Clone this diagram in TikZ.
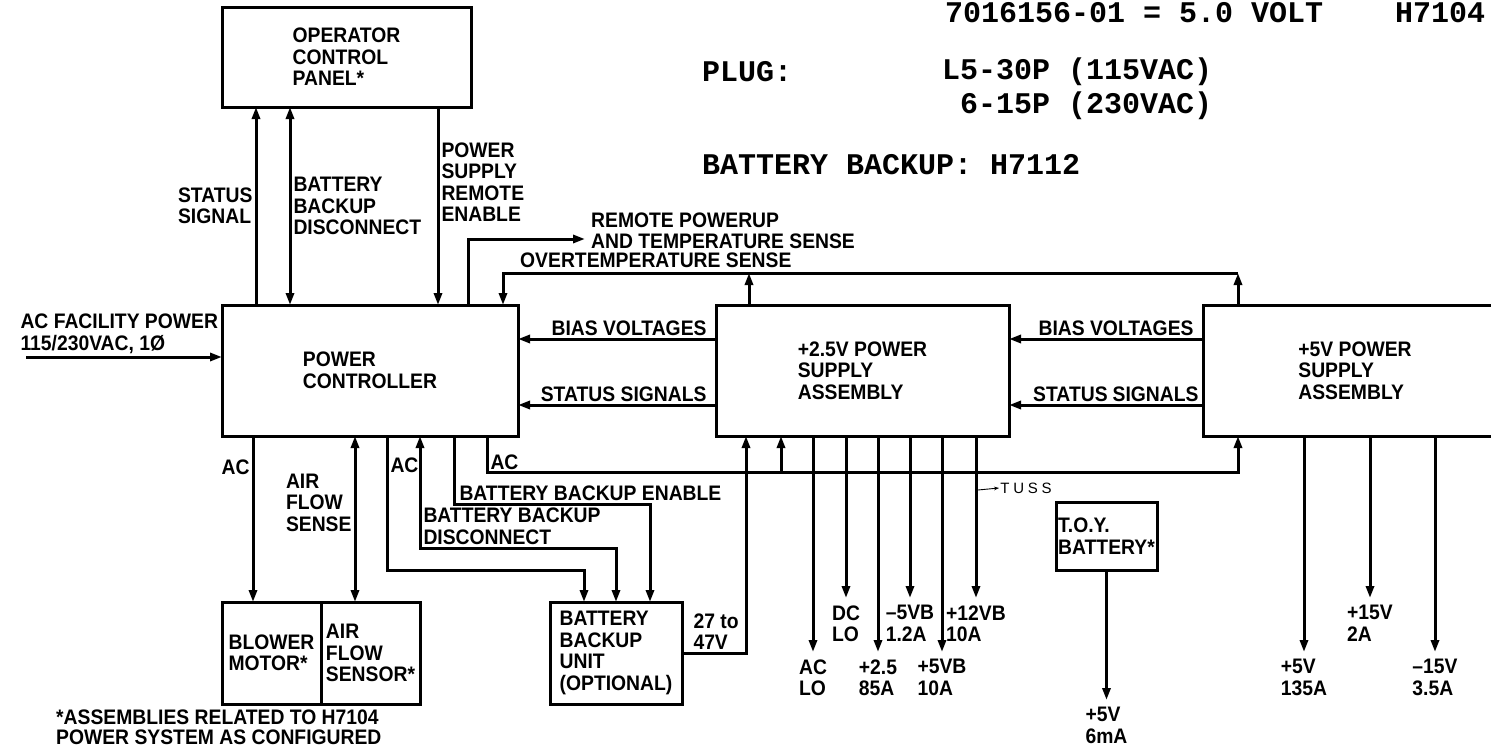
\documentclass[tikz,border=0pt]{standalone}
\usepackage{fontspec}
\newfontfamily\lblfont{Liberation Sans}[FakeStretch=0.92]
\newfontfamily\twfont{Liberation Mono}
\newfontfamily\handfont{Liberation Sans}[LetterSpace=25]
\usetikzlibrary{arrows.meta, calc}
\newcommand\lblsize{\lblfont\bfseries\fontsize{21}{21.5}\selectfont}
\newcommand\twsize{\twfont\bfseries\fontsize{30}{34}\selectfont}

\tikzset{>={Triangle[length=12pt,width=8pt]},
  wire/.style={line width=3pt}, sig/.style={wire, ->}, bisig/.style={wire, <->},
  box/.style={draw, line width=3pt, outer sep=0pt, inner sep=0pt, anchor=north west, align=left, font=\lblsize},
  lbl/.style={font=\lblsize, align=left, inner sep=2pt},
  tw/.style={font=\twsize, align=left, inner sep=2pt, anchor=west}}

\begin{document}
\begin{tikzpicture}[x=1pt, y=-1pt]
\useasboundingbox (0,0) rectangle (1491,747); \clip (0,0) rectangle (1491,747);

% typed notes
\node[tw] (model) at (943,13) {7016156-01 = 5.0 VOLT\ \ \ \ H7104};
\node[tw] (plug) at (700,72) {PLUG:};
\node[tw] (plugs) at (940,89) {L5-30P (115VAC)\\\phantom{L}6-15P (230VAC)};
\node[tw] (bbnote) at (700,165) {BATTERY BACKUP: H7112};

% blocks
\node[box, minimum width=249pt, minimum height=100pt] (ocp) at (222,7) {OPERATOR\\CONTROL\\PANEL*};
\node[box, minimum width=296pt, minimum height=131pt] (pc) at (222,305) {POWER\\CONTROLLER};
\node[box, minimum width=293pt, minimum height=131pt] (ps25) at (716,305) {+2.5V POWER\\SUPPLY\\ASSEMBLY};
\node[box, minimum width=304pt, minimum height=131pt] (ps5) at (1203,305) {+5V POWER\\SUPPLY\\ASSEMBLY};
\node[box, minimum width=99pt, minimum height=102pt] (blower) at (222,602) {BLOWER\\MOTOR*};
\node[box, minimum width=99pt, minimum height=102pt] (sensor) at (321,602) {AIR\\FLOW\\SENSOR*};
\node[box, minimum width=132pt, minimum height=102pt] (bbu) at (550,602) {BATTERY\\BACKUP\\UNIT\\(OPTIONAL)};
\node[box, minimum width=101pt, minimum height=68pt] (toy) at (1056,502) {T.O.Y.\\BATTERY*};

% operator panel links
\draw[sig] (pc.north -| 256,0) -- (ocp.south -| 256,0) node[lbl, midway, left] (lstat) {STATUS\\SIGNAL};
\draw[bisig] (ocp.south -| 290,0) -- (pc.north -| 290,0) node[lbl, midway, right] (ldisc) {BATTERY\\BACKUP\\DISCONNECT};
\draw[sig] (ocp.south -| 438,0) -- (pc.north -| 438,0) node[lbl, pos=0.38, right] (lrem) {POWER\\SUPPLY\\REMOTE\\ENABLE};

% remote powerup and overtemperature
\coordinate (rpu) at (585,239); \coordinate (otc) at (1238,273);
\draw[sig] (pc.north -| 468,0) |- (rpu);
\node[lbl, anchor=west] (lrpu) at (589,231) {REMOTE POWERUP\\AND TEMPERATURE SENSE};
\draw[sig] (ps5.north -| otc) -- (otc); \draw[sig] (otc) -| (pc.north -| 503,0);
\draw[sig] (ps25.north -| 749,0) -- (otc -| 749,0);
\node[lbl, anchor=west] (lot) at (518,260) {OVERTEMPERATURE SENSE};

% ac input
\coordinate (acin) at (26,357);
\draw[sig] (acin) node[lbl, anchor=south west, xshift=-9pt] (lacin) {AC FACILITY POWER\\115/230VAC, 1Ø} -- (pc.west |- acin);

% bias and status between blocks
\draw[sig] (ps25.west |- 0,339) node[lbl, anchor=south east, xshift=-6pt] (lb1) {BIAS VOLTAGES} -- (pc.east |- 0,339);
\draw[sig] (ps25.west |- 0,405) node[lbl, anchor=south east, xshift=-6pt] (ls1) {STATUS SIGNALS} -- (pc.east |- 0,405);
\draw[sig] (ps5.west |- 0,339) node[lbl, anchor=south east, xshift=-6pt] (lb2) {BIAS VOLTAGES} -- (ps25.east |- 0,339);
\draw[sig] (ps5.west |- 0,405) node[lbl, anchor=south east, xshift=-1pt] (ls2) {STATUS\kern5pt SIGNALS} -- (ps25.east |- 0,405);

% controller to blower, sensor and battery backup
\draw[sig] (pc.south -| 253,0) -- (blower.north -| 253,0) node[lbl, pos=0.19, left] (lac1) {AC};
\draw[bisig] (pc.south -| 355,0) -- (sensor.north -| 355,0) node[lbl, pos=0.40, left] (lafs) {AIR\\FLOW\\SENSE};
\draw[sig] (pc.south -| 387,0) -- (387,570) node[lbl, pos=0.22, right] (lac2) {AC} -| (bbu.north -| 584,0);
\draw[bisig] (pc.south -| 420,0) -- (420,548) node[lbl, pos=1, anchor=south west] (lbbd) {BATTERY BACKUP\\DISCONNECT} -| (bbu.north -| 616,0);
\draw[sig] (pc.south -| 454,0) -- (454,504) node[lbl, pos=1, anchor=south west, xshift=2pt] (lbbe) {BATTERY BACKUP ENABLE} -| (bbu.north -| 650,0);
\draw[sig] (bbu.east) node[lbl, anchor=south west, xshift=8pt] (lbat) {27 to\\47V} -| (ps25.south -| 746,0);

% ac to supplies
\draw[sig] (pc.south -| 487,0) -- (487,472) node[lbl, pos=0.72, right] (lac3) {AC} -| (ps5.south -| 1238,0);
\draw[sig] (781,472) -- (ps25.south -| 781,0);

% supply outputs
\foreach \px/\tip/\txt in {813/652/{AC\\LO}, 846/598/{DC\\LO}, 878/652/{+2.5\\85A}, 910/598/{–5VB\\1.2A}, 942/652/{+5VB\\10A}, 976/598/{+12VB\\10A}}
  \draw[sig] (ps25.south -| \px,0) -- (\px,\tip) node[lbl, below, yshift=-4pt] (o\px) {\txt};
\foreach \px/\tip/\txt in {1304/652/{+5V\\135A}, 1370/598/{+15V\\2A}, 1435/652/{–15V\\3.5A}}
  \draw[sig] (ps5.south -| \px,0) -- (\px,\tip) node[lbl, below, yshift=-4pt] (o\px) {\txt};
\draw[sig] (toy.south) -- ++(0,130) node[lbl, below, yshift=-4pt] (otoy) {+5V\\6mA};

% pencil note
\coordinate (hw) at (978,490);
\draw[-{Stealth[length=5pt]}, line width=0.9pt] (hw) -- ++(21,-2) node[right, inner sep=1pt, font=\handfont\fontsize{15}{15}\selectfont] (hwtxt) {TUSS};

% footnote
\node[lbl, anchor=north west, font=\lblfont\bfseries\fontsize{21}{19.5}\selectfont] (note) at (54,708) {*ASSEMBLIES RELATED TO H7104\\POWER SYSTEM AS CONFIGURED};
\end{tikzpicture}
\end{document}
